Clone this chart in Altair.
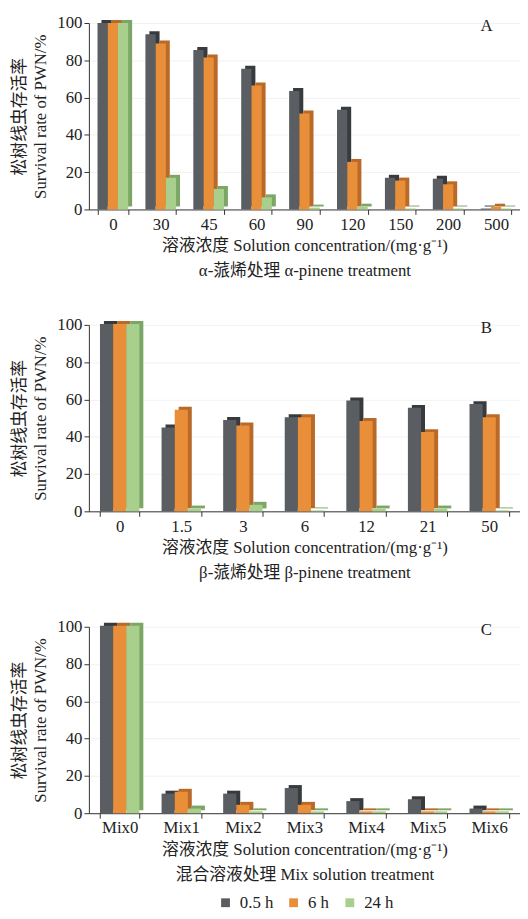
import altair as alt
import pandas as pd

series = ["0.5 h", "6 h", "24 h"]
front_colors = ["#5a5e62", "#e98f3a", "#a8cf8c"]
side_colors = ["#383b3e", "#b96a28", "#7ba665"]

cats_a = ["0", "30", "45", "60", "90", "120", "150", "200", "500"]
a_05 = [100, 94, 85.5, 75.5, 63.5, 53.5, 17, 16.5, 0.5]
a_6 = [100, 89, 81.5, 66.5, 51.5, 25.5, 15.5, 13.5, 1.5]
a_24 = [100, 17, 11, 6.5, 1, 1.5, 0.5, 0.5, 0.5]

cats_b = ["0", "1.5", "3", "6", "12", "21", "50"]
b_05 = [100.5, 45, 49, 50.5, 59.5, 55.5, 57.5]
b_6 = [100.5, 54.5, 46, 50.5, 48.5, 42.5, 50.5]
b_24 = [100.5, 1.5, 3.5, 0.5, 1.5, 1.5, 0.5]

cats_c = ["Mix0", "Mix1", "Mix2", "Mix3", "Mix4", "Mix5", "Mix6"]
c_05 = [100.5, 10.5, 10.5, 13.5, 6.5, 7.5, 2.5]
c_6 = [100.5, 11.5, 4.5, 4.5, 1, 1, 1]
c_24 = [100.5, 2.5, 1, 1, 1, 1, 1]

FONT = "'Liberation Serif', 'Times New Roman', 'Noto Sans CJK SC', serif"
W = 437
H = 189
PI = 0.36
DX = 4
DY = -3


def panel(cats, v05, v6, v24, letter, title2):
    rows = []
    for s, vals, sc in zip(series, [v05, v6, v24], side_colors):
        for c, v in zip(cats, vals):
            rows.append({"cat": c, "series": s, "val": v, "side": sc})
    df = pd.DataFrame(rows)
    n = len(cats)
    step = W / n
    bw = step * (1 - PI)

    x = alt.X(
        "cat:N",
        sort=cats,
        scale=alt.Scale(paddingInner=PI, paddingOuter=PI / 2),
        axis=alt.Axis(
            title=["溶液浓度 Solution concentration/(mg·g⁻¹)", title2],
            labelAngle=0,
            tickBand="extent",
            labelFont=FONT,
            labelFontSize=17,
            labelColor="#222",
            labelPadding=2,
            titleFont=FONT,
            titleFontSize=17,
            titleFontWeight="normal",
            titleColor="#222",
            titleLineHeight=25,
            titlePadding=6,
            domainColor="#333",
            tickColor="#333",
            tickSize=5,
            grid=False,
        ),
    )
    y = alt.Y(
        "val:Q",
        scale=alt.Scale(domain=[0, 100], nice=False),
        axis=alt.Axis(
            title=["松树线虫存活率", "Survival rate of PWN/%"],
            values=[0, 20, 40, 60, 80, 100],
            labelFont=FONT,
            labelFontSize=17,
            labelColor="#222",
            labelPadding=2,
            titleFont=FONT,
            titleFontSize=17,
            titleFontWeight="normal",
            titleColor="#222",
            titleLineHeight=22,
            titlePadding=7,
            domainColor="#333",
            tickColor="#333",
            tickSize=5,
            gridColor="#f2f2f2",
        ),
    )
    side = (
        alt.Chart(df)
        .mark_bar(yOffset=DY, clip=False)
        .encode(
            x=x,
            xOffset=alt.XOffset(
                "series:N", sort=series,
                scale=alt.Scale(domain=series, range=[DX, bw + DX], paddingInner=0, paddingOuter=0),
            ),
            y=y,
            color=alt.Color("side:N", scale=None),
        )
    )
    front = (
        alt.Chart(df)
        .mark_bar(clip=False)
        .encode(
            x=x,
            xOffset=alt.XOffset(
                "series:N", sort=series,
                scale=alt.Scale(domain=series, paddingInner=0, paddingOuter=0),
            ),
            y=y,
            color=alt.Color(
                "series:N",
                sort=series,
                scale=alt.Scale(domain=series, range=front_colors),
                legend=alt.Legend(
                    title=None,
                    orient="none",
                    legendX=130,
                    legendY=883,
                    direction="horizontal",
                    symbolType="square",
                    symbolSize=80,
                    symbolStrokeWidth=0,
                    labelFont=FONT,
                    labelFontSize=17,
                    labelColor="#222",
                    labelOffset=6,
                    columnPadding=12,
                ),
            ),
        )
    )
    lab = (
        alt.Chart(pd.DataFrame({"t": [letter]}))
        .mark_text(font=FONT, fontSize=17, color="#222", align="center", baseline="middle")
        .encode(text="t:N", x=alt.value(403), y=alt.value(3))
    )
    return (
        alt.layer(side, front, lab)
        .resolve_scale(xOffset="independent")
        .properties(width=W, height=H)
    )


pa = panel(cats_a, a_05, a_6, a_24, "A", "α-蒎烯处理 α-pinene treatment")
pb = panel(cats_b, b_05, b_6, b_24, "B", "β-蒎烯处理 β-pinene treatment")
pc = panel(cats_c, c_05, c_6, c_24, "C", "混合溶液处理 Mix solution treatment")

chart = (
    alt.vconcat(pa, pb, pc, spacing=38)
    .properties(padding={"left": 2, "top": 0, "right": 0, "bottom": 0})
    .configure_view(stroke=None)
)

chart.save("out.html", embed_options={"renderer": "svg", "actions": False})
